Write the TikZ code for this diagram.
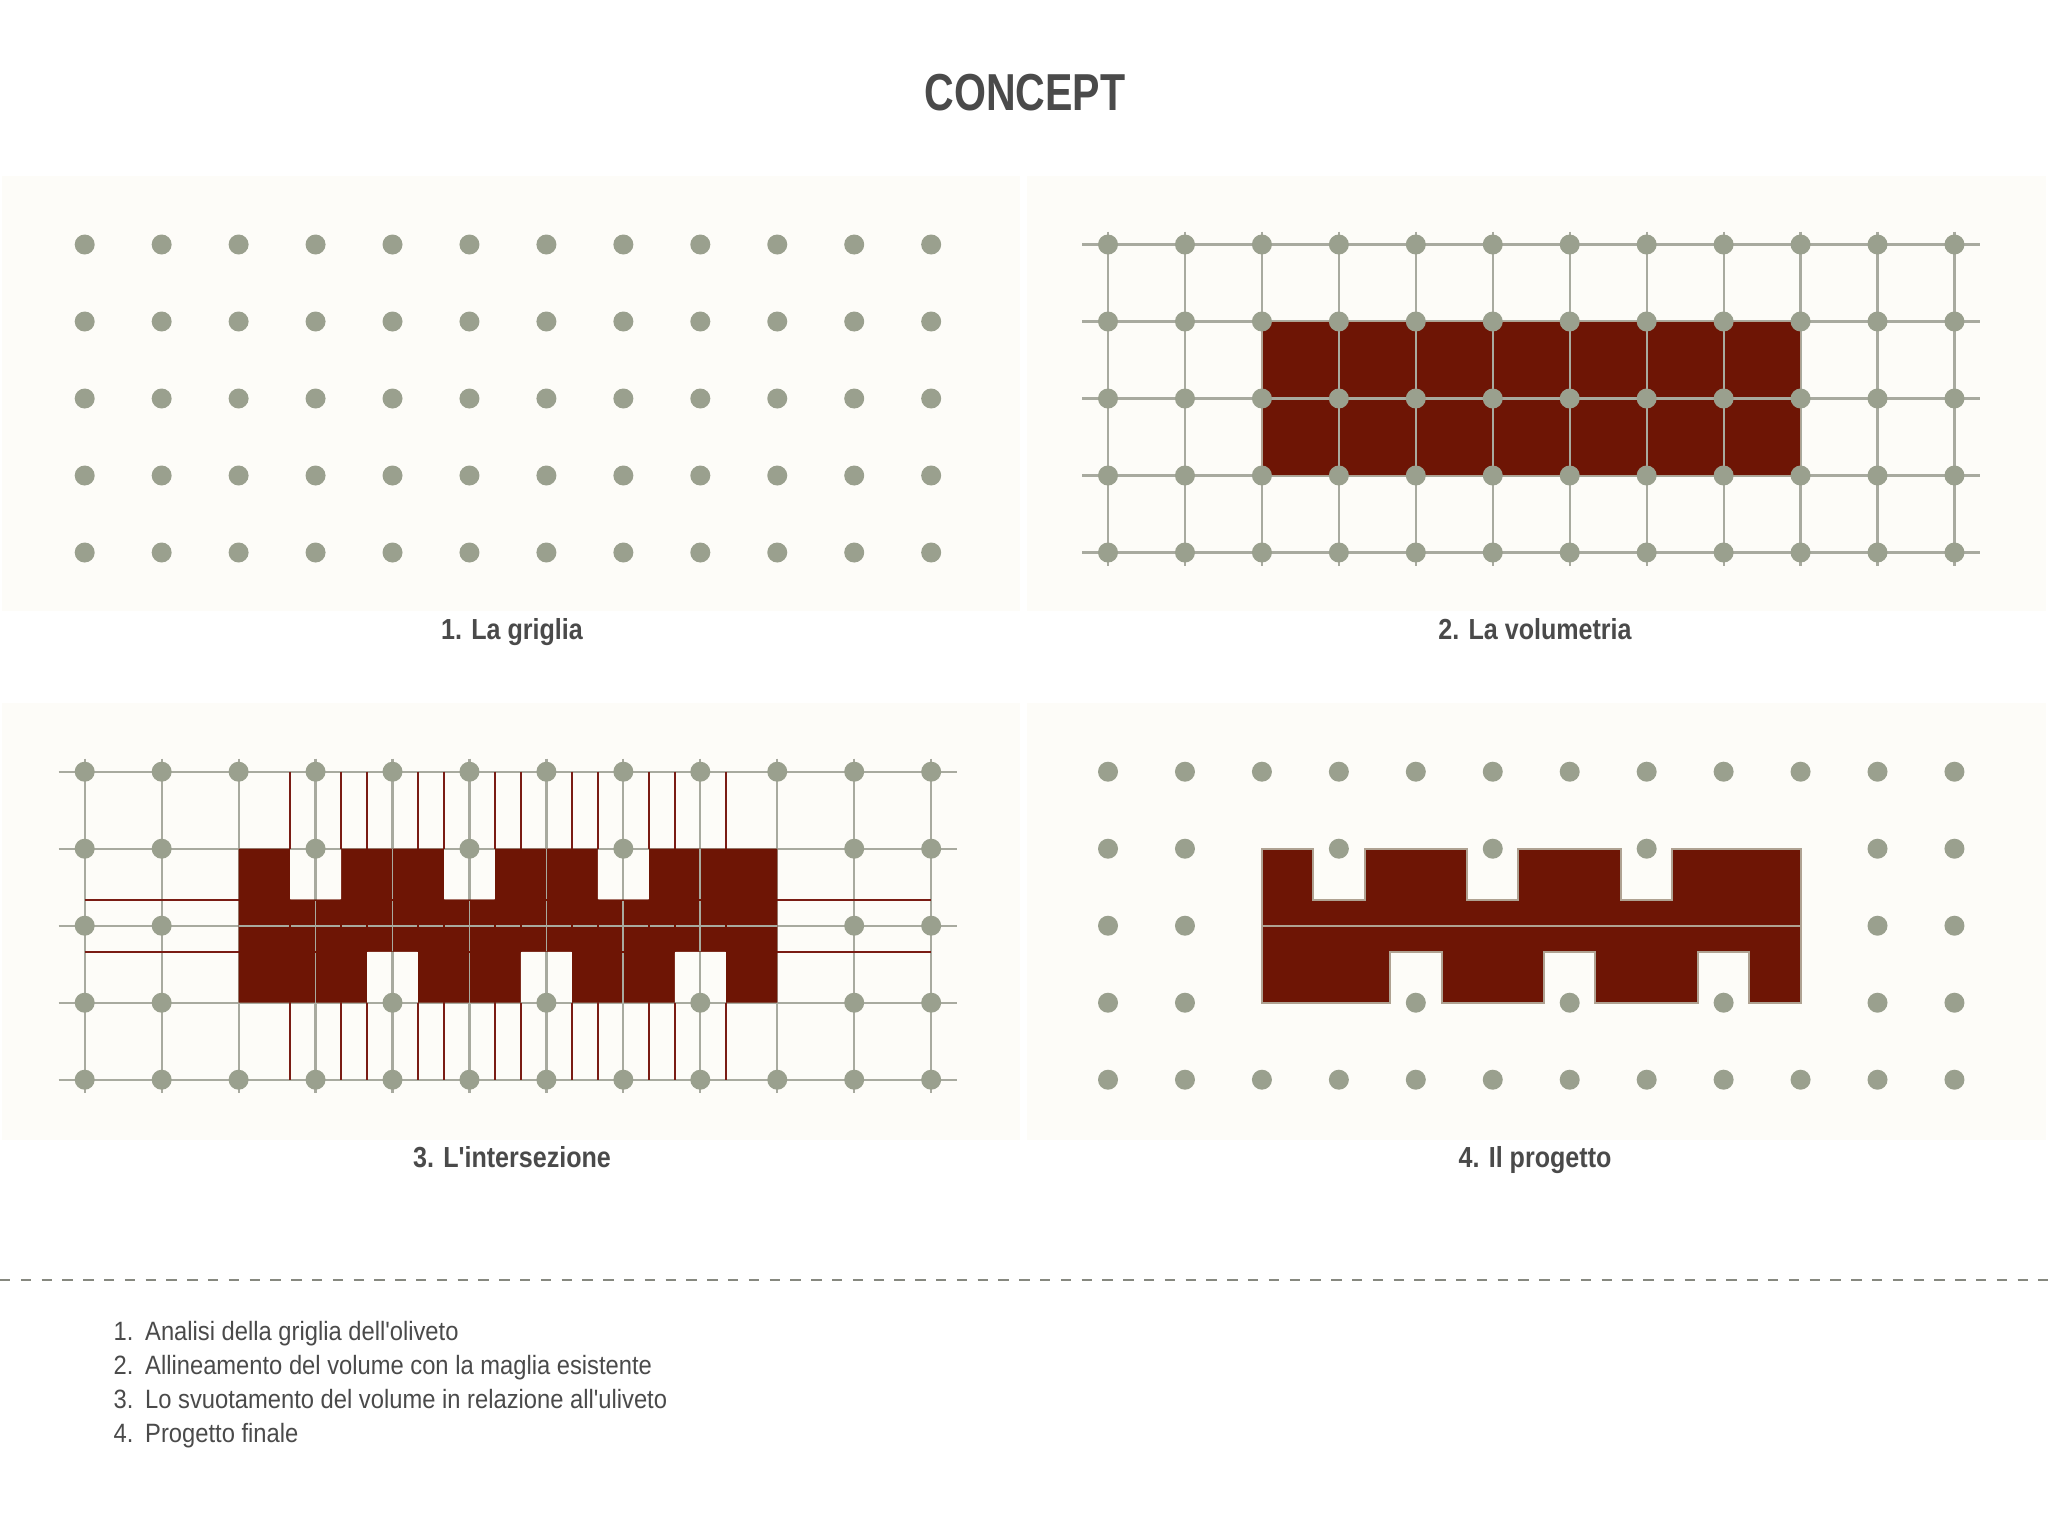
\documentclass[tikz,border=0pt]{standalone}
\usepackage{fontspec}
\setmainfont{Liberation Sans}
\newfontfamily\titlefont[FakeStretch=0.79]{Liberation Sans Bold}
\newfontfamily\capfont[FakeStretch=0.865]{Liberation Sans Bold}
\newfontfamily\listfont[FakeStretch=0.896]{Liberation Sans}
\definecolor{panelbg}{HTML}{FDFCF8}
\definecolor{olivegrey}{HTML}{9AA08E}
\definecolor{gridgrey}{HTML}{A8AA9F}
\definecolor{volred}{HTML}{6E1505}
\definecolor{linered}{HTML}{7A1C14}
\definecolor{edgetan}{HTML}{AFA292}
\definecolor{textgrey}{HTML}{4A4A4A}
\newcommand\olivedots[4]{\foreach \c in {#4} \fill[olivegrey] (#1+76.95*\c,#2+77*#3) circle[radius=10];}
\newcommand\alldots[2]{\foreach \r in {0,...,4} {\olivedots{#1}{#2}{\r}{0,...,11}}}
\newcommand\gapdots[2]{%
  \olivedots{#1}{#2}{0}{0,...,11}
  \olivedots{#1}{#2}{1}{0,1,3,5,7,10,11}
  \olivedots{#1}{#2}{2}{0,1,10,11}
  \olivedots{#1}{#2}{3}{0,1,4,6,8,10,11}
  \olivedots{#1}{#2}{4}{0,...,11}}
\newcommand\gridlines[2]{%
  \foreach \r in {0,...,4} \draw[gridline] (#1-26,#2+77*\r) -- (#1+846.45+26,#2+77*\r);
  \foreach \c in {0,...,11} \draw[gridline] (#1+76.95*\c,#2-13) -- (#1+76.95*\c,#2+308+13);}
\newcommand\volumepath[2]{%
  (#1+153.9,#2+77) -- (#1+205.15,#2+77) -- (#1+205.15,#2+128) -- (#1+256.55,#2+128) -- (#1+256.55,#2+77)
  -- (#1+359.05,#2+77) -- (#1+359.05,#2+128) -- (#1+410.45,#2+128) -- (#1+410.45,#2+77)
  -- (#1+512.95,#2+77) -- (#1+512.95,#2+128) -- (#1+564.35,#2+128) -- (#1+564.35,#2+77)
  -- (#1+692.55,#2+77) -- (#1+692.55,#2+231)
  -- (#1+641.3,#2+231) -- (#1+641.3,#2+180) -- (#1+589.9,#2+180) -- (#1+589.9,#2+231)
  -- (#1+487.4,#2+231) -- (#1+487.4,#2+180) -- (#1+436,#2+180) -- (#1+436,#2+231)
  -- (#1+333.5,#2+231) -- (#1+333.5,#2+180) -- (#1+282.1,#2+180) -- (#1+282.1,#2+231)
  -- (#1+153.9,#2+231) -- cycle}
\tikzset{
  panel/.style={fill=panelbg,draw=none},
  gridline/.style={draw=gridgrey,line width=2.2},
  redline/.style={draw=linered,line width=2},
  capnode/.style={inner sep=0,anchor=base,text=textgrey,font=\capfont\fontsize{29}{29}\selectfont},
  listnode/.style={inner sep=0,anchor=base west,text=textgrey,font=\listfont\fontsize{26.5}{26.5}\selectfont},
}
\begin{document}
\begin{tikzpicture}[x=1pt,y=-1pt]
\useasboundingbox (0,0) rectangle (2048,1535);
\fill[white] (0,0) rectangle (2048,1535);
\node[inner sep=0,anchor=base,text=textgrey,font=\titlefont\fontsize{52}{52}\selectfont] (title) at (1025,110) {CONCEPT};
% panels
\path[panel] (2,176) rectangle (1020,611);
\path[panel] (1027,176) rectangle (2046,611);
\path[panel] (2,703) rectangle (1020,1140);
\path[panel] (1027,703) rectangle (2046,1140);
% panel 1
\alldots{84.7}{244.5}
% panel 2
\gridlines{1108}{244.5}
\path[fill=volred,draw=edgetan,line width=1.5] (1108+153.9,244.5+77) rectangle (1108+692.55,244.5+231);
\draw[gridline] (1108+153.9,244.5+154) -- (1108+692.55,244.5+154);
\foreach \c in {3,...,8} \draw[gridline] (1108+76.95*\c,244.5+77) -- (1108+76.95*\c,244.5+231);
\alldots{1108}{244.5}
% panel 3
\gridlines{84.7}{771.7}
\fill[volred] \volumepath{84.7}{771.7};
\draw[gridline,line width=1.8] (84.7+153.9,771.7+154) -- (84.7+692.55,771.7+154);
\foreach \c in {3,5,7} \draw[gridline,line width=1.8] (84.7+76.95*\c,771.7+128) -- (84.7+76.95*\c,771.7+231);
\foreach \c in {4,6,8} \draw[gridline,line width=1.8] (84.7+76.95*\c,771.7+77) -- (84.7+76.95*\c,771.7+180);
\foreach \x in {205.15,256.55,282.1,333.5,359.05,410.45,436,487.4,512.95,564.35,589.9,641.3} {
  \draw[redline] (84.7+\x,771.7) -- (84.7+\x,771.7+77);
  \draw[redline] (84.7+\x,771.7+231) -- (84.7+\x,771.7+308);
}
\foreach \y in {128,180} {
  \draw[redline] (84.7,771.7+\y) -- (84.7+153.9,771.7+\y);
  \draw[redline] (84.7+692.55,771.7+\y) -- (84.7+846.45,771.7+\y);
}
\begin{scope}
  \clip \volumepath{84.7}{771.7};
  \foreach \x in {205.15,256.55,282.1,333.5,359.05,410.45,436,487.4,512.95,564.35,589.9,641.3}
    \draw[draw=volred,line width=2] (84.7+\x,771.7) -- (84.7+\x,771.7+308);
  \foreach \y in {128,180}
    \draw[draw=volred,line width=2] (84.7,771.7+\y) -- (84.7+846.45,771.7+\y);
\end{scope}
\gapdots{84.7}{771.7}
% panel 4
\path[fill=volred,draw=edgetan,line width=2] \volumepath{1108}{771.7};
\draw[draw=edgetan,line width=2] (1108+153.9,771.7+154) -- (1108+692.55,771.7+154);
\gapdots{1108}{771.7}
% captions
\node[capnode] (cap1) at (512,639) {1. La griglia};
\node[capnode] (cap2) at (1535,639) {2. La volumetria};
\node[capnode] (cap3) at (512,1167) {3. L'intersezione};
\node[capnode] (cap4) at (1535,1167) {4. Il progetto};
% divider
\draw[draw=gridgrey!80!black,line width=1.6,dash pattern=on 10.4 off 10.4] (0,1280) -- (2048,1280);
% list
\node[listnode] (n1) at (113.5,1340) {1.};
\node[listnode] (t1) at (145,1340) {Analisi della griglia dell'oliveto};
\node[listnode] (n2) at (113.5,1374) {2.};
\node[listnode] (t2) at (145,1374) {Allineamento del volume con la maglia esistente};
\node[listnode] (n3) at (113.5,1408) {3.};
\node[listnode] (t3) at (145,1408) {Lo svuotamento del volume in relazione all'uliveto};
\node[listnode] (n4) at (113.5,1442) {4.};
\node[listnode] (t4) at (145,1442) {Progetto finale};
\end{tikzpicture}
\end{document}
